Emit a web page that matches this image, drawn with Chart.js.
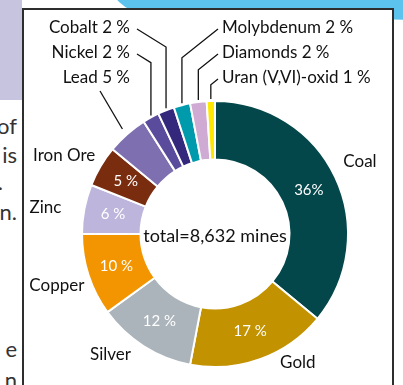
<!DOCTYPE html>
<html>
<head>
<meta charset="utf-8">
<script src="https://cdn.jsdelivr.net/npm/chart.js@4.4.0/dist/chart.umd.min.js"></script>
<style>
  html, body { margin: 0; padding: 0; width: 403px; height: 385px; overflow: hidden; background: #fff; }
  #page { position: relative; width: 403px; height: 385px; overflow: hidden; font-family: Lato, sans-serif; }
  .band { position: absolute; left: 0; top: 0; width: 22px; height: 100px; background: #c6c4de; }
  .wave { position: absolute; left: 110px; top: -40px; width: 320px; height: 52px; background: #5cc3ee;
          border-bottom-left-radius: 36px 34px; transform: rotate(1.5deg); transform-origin: left top; }
  .box { position: absolute; left: 22px; top: 8px; width: 368px; height: 400px; border: 2px solid #2e2e2e; background: #fff; }
  .frag { position: absolute; left: -120px; width: 137px; text-align: right; font-size: 22px; color: #333; line-height: 28px; }
  canvas { position: absolute; left: 0; top: 0; }
</style>
</head>
<body>
<div id="page">
  <div class="band"></div>
  <div class="wave"></div>
  <div class="box"></div>
  <div class="frag" style="top:112px">of</div>
  <div class="frag" style="top:141px">is</div>
  <div class="frag" style="top:168px;left:-134px">.</div>
  <div class="frag" style="top:198px">n.</div>
  <div class="frag" style="top:335px">e</div>
  <div class="frag" style="top:366px">n</div>
  <canvas id="mines" width="403" height="385"></canvas>
</div>
<script>
// share of mines by commodity, in percent
const categories = ['Coal', 'Gold', 'Silver', 'Copper', 'Zinc', 'Iron Ore', 'Lead', 'Nickel', 'Cobalt', 'Molybdenum', 'Diamonds', 'Uran (V,VI)-oxid'];
const shares = [36, 17, 12, 10, 6, 5, 5, 2, 2, 2, 2, 1];
const totalMines = 8632;

const sliceColors = ['#03474b', '#c29200', '#abb4bb', '#f29500', '#bdb5dc', '#7a2c0e',
                     '#7e6fb1', '#5a4b9d', '#33287c', '#009aad', '#cfaad2', '#ffe800'];

// small slices get a callout above the ring: [side, row]
const callouts = {
  'Cobalt': ['left', 0], 'Nickel': ['left', 1], 'Lead': ['left', 2],
  'Molybdenum': ['right', 0], 'Diamonds': ['right', 1], 'Uran (V,VI)-oxid': ['right', 2]
};
// name labels of the big slices: angle nudge (deg) and distance (x outer radius)
const nameNudge = [[-1.5, 1.22], [-13, 1.15], [8.5, 1.2], [0, 1.25], [-2, 1.29], [-3, 1.28]];

const labelPlugin = {
  id: 'sliceLabels',
  afterDatasetsDraw(chart) {
    const ctx = chart.ctx;
    const arcs = chart.getDatasetMeta(0).data;
    const cx = arcs[0].x, cy = arcs[0].y, R = arcs[0].outerRadius;
    const top = chart.chartArea.top;
    const rowY = [top - 72, top - 47, top - 22];
    const colX = { left: cx - 85, right: cx + 7 };
    const slope = { left: 0.62, right: 0.8 };

    ctx.save();
    ctx.textBaseline = 'middle';
    ctx.lineWidth = 1.3;
    ctx.strokeStyle = '#111';

    arcs.forEach((arc, i) => {
      const mid = (arc.startAngle + arc.endAngle) / 2;
      const name = categories[i];
      const v = shares[i];

      if (callouts[name]) {
        const [side, row] = callouts[name];
        const y = rowY[row];
        ctx.fillStyle = '#111';
        ctx.font = '17px Lato, sans-serif';
        ctx.textAlign = side === 'left' ? 'right' : 'left';
        ctx.fillText(name + ' ' + v + ' %', colX[side], y);

        ctx.beginPath();
        if (side === 'left' && row === 2) {
          // straight leader for the wider slice
          ctx.moveTo(cx + (R + 7) * Math.cos(mid), cy + (R + 7) * Math.sin(mid));
          ctx.lineTo(colX.left - 30, y + 13);
        } else {
          const vx = cx + R * Math.cos(mid);
          const vy = cy - Math.sqrt(R * R - (vx - cx) * (vx - cx)) - 2;
          const sx = side === 'left' ? colX.left + 7 : colX.right - 4;
          const sy = y + 1;
          const ey = sy + slope[side] * Math.abs(vx - sx);
          ctx.moveTo(vx, vy);
          ctx.lineTo(vx, ey);
          ctx.lineTo(sx, sy);
        }
        ctx.stroke();
        return;
      }

      // value inside the ring
      const rm = (arc.innerRadius + arc.outerRadius) / 2;
      ctx.fillStyle = '#ffffff';
      ctx.font = '15px Lato, sans-serif';
      ctx.textAlign = 'center';
      ctx.fillText(v + (i === 0 ? '%' : ' %'), cx + rm * Math.cos(mid), cy + rm * Math.sin(mid));

      // name outside the ring
      const [da, k] = nameNudge[i];
      const a = mid + da * Math.PI / 180;
      ctx.fillStyle = '#111';
      ctx.font = '17px Lato, sans-serif';
      ctx.fillText(name, cx + R * k * Math.cos(a), cy + R * k * Math.sin(a));
    });

    ctx.fillStyle = '#111';
    ctx.font = '18px Lato, sans-serif';
    ctx.textAlign = 'center';
    ctx.fillText('total=' + totalMines.toLocaleString('en-US') + ' mines', cx, cy + 2);
    ctx.restore();
  }
};

new Chart(document.getElementById('mines'), {
  type: 'doughnut',
  data: {
    labels: categories,
    datasets: [{
      data: shares,
      backgroundColor: sliceColors,
      borderColor: '#ffffff',
      borderWidth: 2
    }]
  },
  options: {
    responsive: false,
    animation: false,
    cutout: '56%',
    layout: { padding: { left: 81, right: 54, top: 100, bottom: 17 } },
    plugins: { legend: { display: false }, tooltip: { enabled: false } }
  },
  plugins: [labelPlugin]
});
</script>
</body>
</html>
